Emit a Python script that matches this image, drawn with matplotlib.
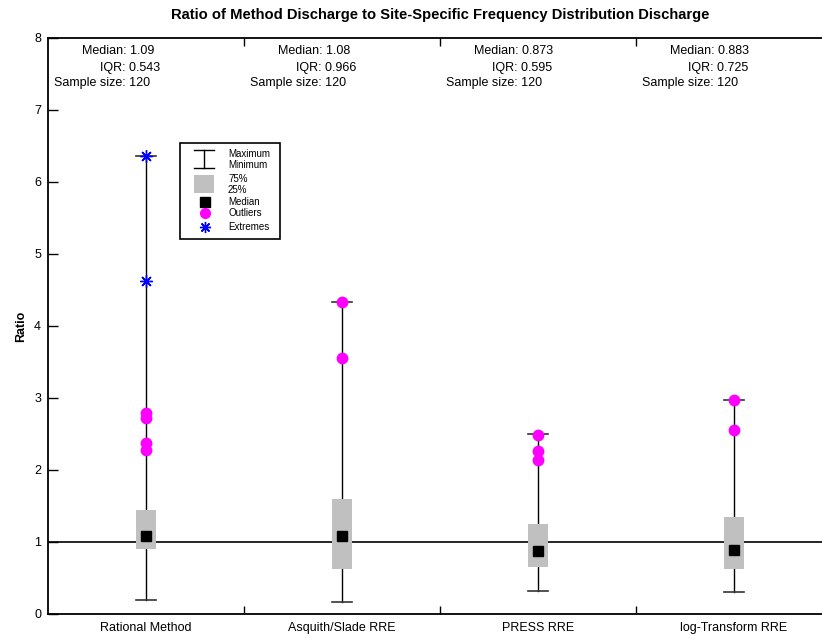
import matplotlib
matplotlib.use("Agg")
import matplotlib.pyplot as plt
from matplotlib.lines import Line2D
from matplotlib.patches import Rectangle

plt.rcParams['font.family'] = ['Liberation Sans', 'DejaVu Sans']

# Summary statistics
methods = ["Rational Method", "Asquith/Slade RRE", "PRESS RRE", "log-Transform RRE"]
minimum = [0.20, 0.16, 0.32, 0.31]
q1 = [0.90, 0.63, 0.65, 0.625]
median = [1.09, 1.08, 0.873, 0.883]
q3 = [1.443, 1.596, 1.245, 1.35]
maximum = [6.36, 4.34, 2.50, 2.97]
iqr_text = ["0.543", "0.966", "0.595", "0.725"]
median_text = ["1.09", "1.08", "0.873", "0.883"]
sample_size = [120, 120, 120, 120]
outliers = [[2.79, 2.72, 2.38, 2.28], [4.34, 3.55], [2.49, 2.27, 2.14], [2.97, 2.56]]
extremes = [[6.36, 4.62], [], [], []]

W, H = 822, 640
fig = plt.figure(figsize=(W / 100, H / 100), dpi=100)
# axes runs past the right edge of the figure, as in the reference
ax = fig.add_axes([48 / W, 1 - 614 / H, 784 / W, 576 / H])

pos = list(range(1, len(methods) + 1))
box_w = 0.102
cap_w = 0.102

for i, p in enumerate(pos):
    ax.plot([p, p], [minimum[i], maximum[i]], color='black', lw=1, zorder=2)
    ax.plot([p - cap_w / 2, p + cap_w / 2], [minimum[i]] * 2, color='#333333', lw=1.2, zorder=2)
    ax.plot([p - cap_w / 2, p + cap_w / 2], [maximum[i]] * 2, color='#333333', lw=1.2, zorder=2)
    ax.add_patch(Rectangle((p - box_w / 2, q1[i]), box_w, q3[i] - q1[i],
                           facecolor='#c0c0c0', edgecolor='none', zorder=3))
    ax.plot(p, median[i], marker='s', color='black', markersize=7.5, zorder=5, ls='none')
    if outliers[i]:
        ax.plot([p] * len(outliers[i]), outliers[i], marker='o', color='#ff00ff',
                markersize=7.5, ls='none', zorder=4)
    if extremes[i]:
        ax.plot([p] * len(extremes[i]), extremes[i], marker=(8, 2, 0), color='#0000ff',
                markersize=9, mew=1, ls='none', zorder=4)

    # stats text above each box
    ax.text(p - 0.327, 7.82, f"Median: {median_text[i]}", fontsize=9, va='center', ha='left')
    ax.text(p - 0.235, 7.59, f"IQR: {iqr_text[i]}", fontsize=9, va='center', ha='left')
    ax.text(p - 0.469, 7.37, f"Sample size: {sample_size[i]}", fontsize=9, va='center', ha='left')

ax.axhline(1, color='black', lw=1.2, zorder=1)

ax.set_xlim(0.5, 4.5)
ax.set_ylim(0, 8)
ax.set_yticks(range(0, 9))
ax.tick_params(axis='y', direction='in', length=7, width=1, labelsize=9, pad=5)
ax.set_xticks([1.5, 2.5, 3.5])
ax.set_xticklabels([])
ax.set_xticks(pos, minor=True)
ax.set_xticklabels(methods, minor=True, fontsize=9)
ax.tick_params(axis='x', which='major', direction='in', length=6, width=1, top=True)
ax.tick_params(axis='x', which='minor', length=0, pad=6)

for s in ['left', 'bottom', 'top']:
    ax.spines[s].set_linewidth(1.3)
ax.spines['right'].set_visible(False)

ax.set_ylabel("Ratio", fontsize=9, fontweight='bold', labelpad=5)
fig.text(440 / W, 1 - 15 / H,
         "Ratio of Method Discharge to Site-Specific Frequency Distribution Discharge",
         fontsize=10.6, fontweight='bold', ha='center', va='center')

# hand-made legend box in pixel positions
def fx(x):
    return x / W

def fy(y):
    return 1 - y / H

tf = fig.transFigure
fig.add_artist(Rectangle((fx(180), fy(239)), fx(100), (239 - 143) / H, transform=tf,
                         facecolor='white', edgecolor='black', lw=1.2, zorder=6))
fig.add_artist(Line2D([fx(194), fx(214)], [fy(150), fy(150)], transform=tf, color='black', lw=1, zorder=7))
fig.add_artist(Line2D([fx(194), fx(214)], [fy(168), fy(168)], transform=tf, color='black', lw=1, zorder=7))
fig.add_artist(Line2D([fx(204), fx(204)], [fy(150), fy(168)], transform=tf, color='black', lw=1, zorder=7))
fig.add_artist(Rectangle((fx(194), fy(193)), fx(20), 18 / H, transform=tf,
                         facecolor='#c0c0c0', edgecolor='none', zorder=7))
fig.add_artist(Line2D([fx(205)], [fy(202)], transform=tf, marker='s', color='black',
                      markersize=7, ls='none', zorder=7))
fig.add_artist(Line2D([fx(205)], [fy(213)], transform=tf, marker='o', color='#ff00ff',
                      markersize=7, ls='none', zorder=7))
fig.add_artist(Line2D([fx(205)], [fy(227)], transform=tf, marker=(8, 2, 0), color='#0000ff',
                      markersize=8, ls='none', zorder=7))
legend_rows = [("Maximum", 154), ("Minimum", 165), ("75%", 179), ("25%", 190),
               ("Median", 202), ("Outliers", 213), ("Extremes", 227)]
for label, yy in legend_rows:
    fig.text(fx(228), fy(yy), label, fontsize=7, va='center', ha='left', zorder=8)

fig.savefig("out.png", dpi=100)
